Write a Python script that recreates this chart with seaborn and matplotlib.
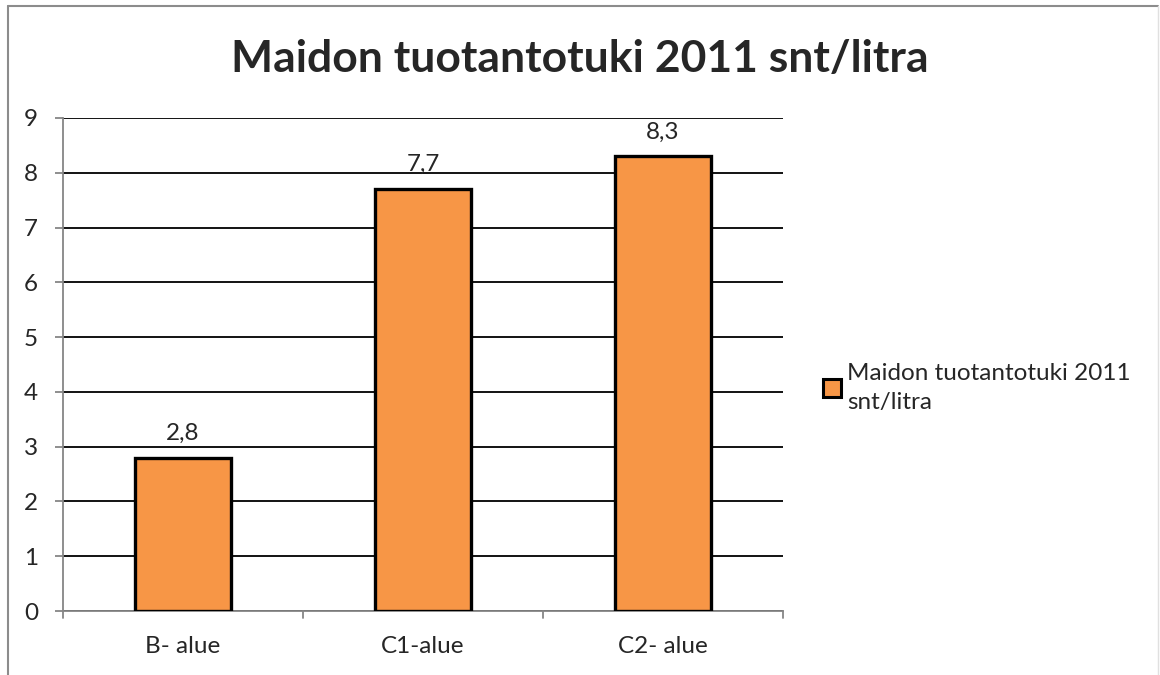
import pandas as pd
import seaborn as sns
import matplotlib.pyplot as plt
from matplotlib.patches import Patch
from matplotlib.lines import Line2D

# -----------------------------
# Data
# -----------------------------
categories = ["B- alue", "C1-alue", "C2- alue"]
values = [2.8, 7.7, 8.3]
series_name = "Maidon tuotantotuki 2011 snt/litra"
yticks = list(range(0, 10))

df = pd.DataFrame({"alue": categories, "tuki": values})

# -----------------------------
# Style
# -----------------------------
sns.set_style("white")
plt.rcParams['font.family'] = ['Lato', 'DejaVu Sans']

orange = "#F79646"
axis_grey = "#868686"

fig = plt.figure(figsize=(11.6, 6.75), dpi=100)
ax = fig.add_axes([0.0543, 0.0948, 0.6207, 0.7304])

sns.barplot(data=df, x="alue", y="tuki", color=orange, width=0.4,
            edgecolor="black", linewidth=2.4, saturation=1, ax=ax, zorder=3)

ax.set_ylim(0, 9)
ax.set_xlim(-0.5, len(categories) - 0.5)
ax.set_yticks(yticks)
ax.set_yticklabels([str(t) for t in yticks])
ax.set_xlabel("")
ax.set_ylabel("")

# gridlines
ax.yaxis.grid(True, color="black", linewidth=1.3)
ax.set_axisbelow(True)

for s in ["top", "right"]:
    ax.spines[s].set_visible(False)
for s in ["left", "bottom"]:
    ax.spines[s].set_color(axis_grey)
    ax.spines[s].set_linewidth(1.3)

ax.tick_params(axis="y", length=6, width=1.3, color=axis_grey, labelsize=17.5, pad=12, left=True)
ax.tick_params(axis="x", length=0, labelsize=17.5, pad=18)

# x tick marks between categories
for xb in [-0.5, 0.5, 1.5, 2.5]:
    ax.add_line(Line2D([xb, xb], [0, -0.13], color=axis_grey, linewidth=1.3,
                       transform=ax.transData, clip_on=False))

# data labels
for container in ax.containers:
    ax.bar_label(container, labels=[f"{v:.1f}".replace(".", ",") for v in values],
                 padding=10, fontsize=17.5)

# title
fig.text(0.5, 0.912, series_name, ha="center", va="center",
         fontsize=32, fontweight="bold")

# legend
handle = Patch(facecolor=orange, edgecolor="black", linewidth=2.2)
leg = fig.legend([handle], ["Maidon tuotantotuki 2011\nsnt/litra"], loc="upper left",
                 bbox_to_anchor=(0.701, 0.476), frameon=False, fontsize=17.5,
                 handlelength=0.75, handleheight=0.75, handletextpad=0.25,
                 borderaxespad=0)
for t in leg.get_texts():
    t.set_linespacing(1.45)

# outer chart border (top and left visible)
fig.add_artist(Line2D([0.007, 0.998], [0.991, 0.991], color="#8c8c8c", linewidth=1.5,
                      transform=fig.transFigure))
fig.add_artist(Line2D([0.007, 0.007], [0.0, 0.991], color="#8c8c8c", linewidth=1.5,
                      transform=fig.transFigure))
fig.add_artist(Line2D([0.998, 0.998], [0.0, 0.991], color="#e0e0e0", linewidth=1,
                      transform=fig.transFigure))

fig.savefig("out.png", dpi=100)
